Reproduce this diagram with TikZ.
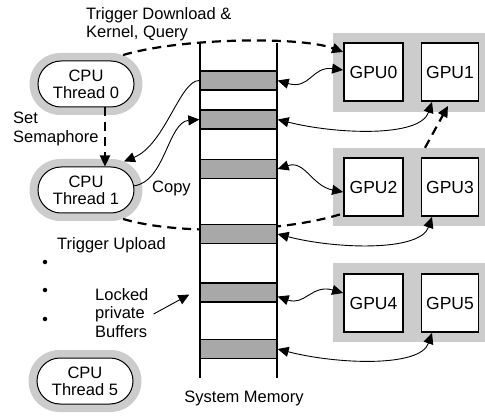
\documentclass[tikz,border=0pt]{standalone}
\usepackage{fontspec}
\setmainfont{Liberation Sans}
\usetikzlibrary{shapes.misc,arrows.meta}
\definecolor{halo}{HTML}{CCCCCC}
\definecolor{bufgray}{HTML}{A8A8A8}

\begin{document}
\begin{tikzpicture}[x=1pt,y=-1pt,
  tip/.style={-{Triangle[length=11pt,width=10pt]}},
  tips/.style={{Triangle[length=11pt,width=10pt]}-{Triangle[length=11pt,width=10pt]}},
  link/.style={line width=0.9pt},
  dashlink/.style={line width=2.2pt, dash pattern=on 9pt off 6pt},
  txt/.style={font=\fontsize{16.5}{18.5}\selectfont, inner sep=0pt, align=left},
  cpuhalo/.style={rounded rectangle, fill=halo, minimum width=113pt,
    minimum height=62pt, inner sep=0pt},
  cpu/.style={rounded rectangle, draw, fill=white, line width=1pt,
    minimum width=96pt, minimum height=46pt, inner sep=0pt, align=center,
    font=\fontsize{16.5}{17}\selectfont},
  buf/.style={rectangle, fill=bufgray, draw, line width=1.3pt,
    minimum width=77pt, minimum height=19pt, inner sep=0pt},
  grp/.style={rectangle, fill=halo, minimum width=159pt, inner sep=0pt},
  gpu/.style={rectangle, draw, fill=white, line width=1.8pt,
    minimum height=58pt, inner sep=0pt, font=\fontsize{17.5}{20}\selectfont},
  dot/.style={circle, fill, inner sep=0pt, minimum size=4.5pt}]

\useasboundingbox (0,0) rectangle (485,417);

% CPU threads
\node[cpuhalo] (t0o) at (86,84) {};
\node[cpu] (t0) at (86,84) {CPU\\Thread 0};
\node[cpuhalo] (t1o) at (86,190) {};
\node[cpu] (t1) at (86,190) {CPU\\Thread 1};
\node[cpuhalo] (t5o) at (85,381) {};
\node[cpu] (t5) at (85,381) {CPU\\Thread 5};

% GPU groups (background panels)
\node[grp, minimum height=79pt] (grp1) at (412.5,72.5) {};
\node[grp, minimum height=78pt] (grp2) at (412.5,187) {};
\node[grp, minimum height=79pt] (grp3) at (412.5,302.5) {};

% upload trigger, passing behind the memory buffers and the second panel
\draw[dashlink] (t1o.-38) .. controls (180,236) and (290,232) ..
  ([xshift=14pt,yshift=14pt]grp2.south west);

% system memory column
\coordinate (mtl) at (200,43);
\coordinate (mbl) at (200,378);
\coordinate (mtr) at (277,43);
\coordinate (mbr) at (277,378);
\draw[line width=1.4pt] (mtl) -- (mbl);
\draw[line width=1.4pt] (mtr) -- (mbr);

\node[buf] (b1) at (238.5,80.5) {};
\node[buf] (b2) at (238.5,119.5) {};
\node[buf] (b3) at (238.5,169) {};
\node[buf] (b4) at (238.5,234) {};
\node[buf] (b5) at (238.5,292.5) {};
\node[buf] (b6) at (238.5,349) {};

% GPUs
\node[gpu, minimum width=59pt] (g0) at (373.5,72) {GPU0};
\node[gpu, minimum width=57pt] (g1) at (450,72) {GPU1};
\node[gpu, minimum width=59pt] (g2) at (373.5,187) {GPU2};
\node[gpu, minimum width=57pt] (g3) at (450,187) {GPU3};
\node[gpu, minimum width=59pt] (g4) at (373.5,303) {GPU4};
\node[gpu, minimum width=57pt] (g5) at (450,303) {GPU5};

% labels
\node[txt, anchor=west] (trig) at (86,24) {Trigger Download \&\\Kernel, Query};
\node[txt, anchor=west] (sema) at (13,129) {Set\\Semaphore};
\node[txt, anchor=west] (copy) at (152,188) {Copy};
\node[txt, anchor=west] (upl) at (57,245) {Trigger Upload};
\node[txt, anchor=west] (lock) at (95,313) {Locked\\private\\Buffers};
\node[txt] (sysm) at (244,398) {System Memory};
\node[dot] (d1) at (45,262) {};
\node[dot] (d2) at (45,290) {};
\node[dot] (d3) at (45,319) {};

% dashed control flow
\draw[dashlink, tip] (t0o.38) .. controls (180,38) and (300,36) ..
  ([yshift=20pt]g0.west);
\draw[dashlink, tip] ([xshift=19pt]t0.south) -- ([xshift=19pt]t1.north);
\draw[dashlink, tip] ([xshift=12.5pt]grp2.north) -- ([xshift=-2pt,yshift=-4pt]g1.south);

% data transfers
\draw[link, tips] (b1.east) .. controls (310,90) and (312,66) .. ([yshift=2pt]g0.west);
\draw[link, tip] (b1.west) .. controls (180,80) and (165,145) .. (t1o.37);
\draw[link, tip] (t1.5) .. controls (165,182) and (168,122) .. (b2.west);
\draw[link, tips] (b2.east) .. controls (335,134) and (420,138) .. ([xshift=-18pt]g1.south);
\draw[link, tips] (b3.east) .. controls (305,160) and (312,186) .. ([yshift=-5pt]g2.west);
\draw[link, tips] (b4.east) .. controls (335,249) and (420,252) .. ([xshift=-18pt]g3.south);
\draw[link, tips] ([yshift=-4pt]b5.east) .. controls (305,306) and (312,284) .. ([yshift=10pt]g4.west);
\draw[link, tips] (b6.east) .. controls (335,364) and (420,368) .. ([xshift=-18pt]g5.south);

% pointer to the buffers
\draw[link, tip] ([xshift=5pt,yshift=-1pt]lock.east) -- ([xshift=-10pt,yshift=-2pt]b5.west);

\end{tikzpicture}
\end{document}
